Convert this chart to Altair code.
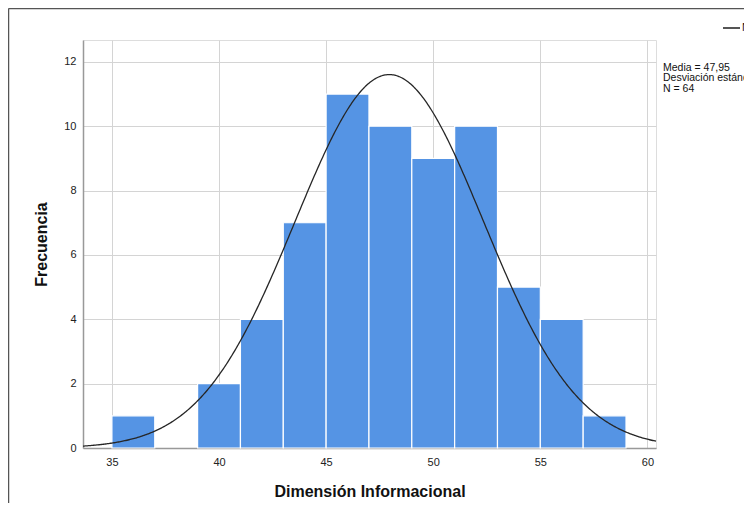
import altair as alt
import pandas as pd

bin_start = [35, 37, 39, 41, 43, 45, 47, 49, 51, 53, 55, 57]
bin_end = [37, 39, 41, 43, 45, 47, 49, 51, 53, 55, 57, 59]
counts = [1, 0, 2, 4, 7, 11, 10, 9, 10, 5, 4, 1]
mean_val = 47.95
sd_val = 4.40
n_val = 64
bin_width = 2
x_ticks = [35, 40, 45, 50, 55, 60]
y_ticks = [0, 2, 4, 6, 8, 10, 12]
stats_lines = ["Media = 47,95", "Desviación estándar = 4,40", "N = 64"]

W, H = 573, 408
XDOM = [33.65, 60.4]
YDOM = [0, 12.68]
FONT = "Liberation Sans"

bars_df = pd.DataFrame({"start": bin_start, "end": bin_end, "count": counts})

xs = alt.Scale(domain=XDOM, nice=False, zero=False, padding=0)
ys = alt.Scale(domain=YDOM, nice=False, zero=True, padding=0)

bars = alt.Chart(bars_df).mark_bar(
    color="#5594e4", stroke="#ffffff", strokeWidth=1.2
).encode(
    x=alt.X("start:Q", scale=xs,
            axis=alt.Axis(values=x_ticks, title="Dimensión Informacional", grid=True,
                          gridColor="#d4d4d4", ticks=False, labelPadding=8,
                          titlePadding=16, titleFontSize=16, titleFontWeight="bold",
                          labelFontSize=11, labelColor="#222", titleColor="#111",
                          domainColor="#999", domainWidth=1.5, labelFont=FONT, titleFont=FONT)),
    x2="end:Q",
    y=alt.Y("count:Q", scale=ys,
            axis=alt.Axis(values=y_ticks, title="Frecuencia", grid=True,
                          gridColor="#d4d4d4", ticks=False, labelPadding=7,
                          titlePadding=14, titleFontSize=16, titleFontWeight="bold",
                          labelFontSize=11, labelColor="#222", titleColor="#111",
                          domainColor="#999", domainWidth=1.5, labelFont=FONT, titleFont=FONT)),
    y2=alt.datum(0),
    opacity=alt.condition("datum.count > 0", alt.value(1), alt.value(0)),
)

seq = alt.sequence(start=XDOM[0], stop=XDOM[1] + 0.01, step=0.05, as_="xv")
curve = alt.Chart(seq).transform_calculate(
    dens=f"{n_val}*{bin_width}/({sd_val}*sqrt(2*PI))*exp(-0.5*pow((datum.xv-{mean_val})/{sd_val},2))"
).mark_line(color="#262626", strokeWidth=1.3).encode(
    x=alt.X("xv:Q", scale=xs),
    y=alt.Y("dens:Q", scale=ys),
)

def label(txt, x, y, size=10.5):
    return alt.Chart(pd.DataFrame({"t": [txt]})).mark_text(
        align="left", baseline="middle", fontSize=size, font=FONT, color="#111"
    ).encode(x=alt.value(x), y=alt.value(y), text="t:N")

stats = [label(stats_lines[0], 580, 27.5), label(stats_lines[1], 580, 38), label(stats_lines[2], 580, 48.5)]

legend_line = alt.Chart(pd.DataFrame({"a": [0]})).mark_rule(color="#555", strokeWidth=2).encode(
    x=alt.value(640), x2=alt.value(657), y=alt.value(-12)
)
legend_text = label("Normal", 659, -12, 11)

frame_left = alt.Chart(pd.DataFrame({"a": [0]})).mark_rule(color="#555", strokeWidth=1.5).encode(
    x=alt.value(-74.5), y=alt.value(-31.5), y2=alt.value(H + 60)
)
frame_top = alt.Chart(pd.DataFrame({"a": [0]})).mark_rule(color="#555", strokeWidth=1.5).encode(
    x=alt.value(-74.5), x2=alt.value(W + 100), y=alt.value(-31.5)
)

chart = alt.layer(
    bars, curve, *stats, legend_line, legend_text, frame_left, frame_top
).properties(
    width=W, height=H,
    autosize=alt.AutoSizeParams(type="none"),
    padding={"left": 75, "top": 32, "right": 88, "bottom": 55},
).configure_view(stroke=None).configure(background="white")

chart.save("out.html", embed_options={"renderer": "svg", "actions": False})
